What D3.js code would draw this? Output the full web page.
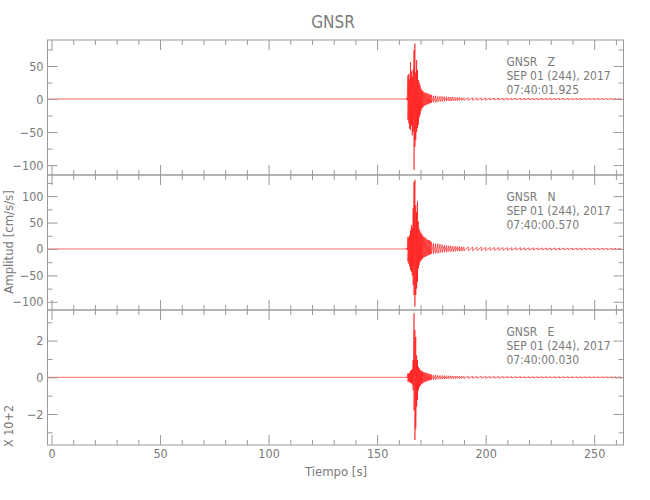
<!DOCTYPE html>
<html>
<head>
<meta charset="utf-8">
<script src="https://cdn.jsdelivr.net/npm/d3@7/dist/d3.min.js"></script>
<style>
  html, body { margin: 0; padding: 0; background: #fff; }
  svg text { font-family: "DejaVu Sans Condensed", "Liberation Sans Narrow", sans-serif; fill: #7a7a7a; }
</style>
</head>
<body>
<svg id="chart" width="650" height="500"></svg>
<script>
// ---------------- DATA ----------------
const title = "GNSR";
const xLabel = "Tiempo [s]";
const yLabel = "Amplitud [cm/s/s]";
const scaleNote = "X 10+2";
const xDomain = [-1.85, 263.5];
const xMajorTicks = [0, 50, 100, 150, 200, 250];

const components = ["Z", "N", "E"];
const headerLines = {
  Z: ["GNSR   Z", "SEP 01 (244), 2017", "07:40:01.925"],
  N: ["GNSR   N", "SEP 01 (244), 2017", "07:40:00.570"],
  E: ["GNSR   E", "SEP 01 (244), 2017", "07:40:00.030"]
};
const yDomains = { Z: [-115, 89.4], N: [-115.5, 140], E: [-3.69, 3.67] };
const yMajorTicks = { Z: [-100, -50, 0, 50], N: [-100, -50, 0, 50, 100], E: [-2, 0, 2] };
const yMinorTicks = { Z: [-75, -25, 25, 75], N: [-75, -25, 25, 75, 125], E: [-3, -1, 1, 3] };

// envelope sample times (s) of the trace after the onset; before it the trace is flat at 0
const envTimes = [
  163.8, 164.2, 164.6, 165.0, 165.4, 165.8, 166.2, 166.6, 167.0, 167.4,
  167.8, 168.2, 168.6, 169.0, 169.4, 169.8, 170.2, 170.6, 171.0,
  171.5, 172, 172.5, 173, 173.5, 174, 174.5, 175,
  176, 177, 178, 179, 180, 181, 182, 183, 184, 185, 186, 187, 188, 189, 190,
  192, 194, 196, 198, 200, 202, 204, 206, 208, 210, 212, 214, 216, 218, 220,
  222, 224, 226, 228, 230, 232, 234, 236, 238, 240, 242, 244, 246, 248, 250,
  252, 254, 256, 258, 260, 262
];

const zMax = [
  2, 36, 38, 30, 56, 42, 34, 45, 74, 84,
  40, 59, 44, 29, 25, 21, 16, 14, 12,
  11, 10, 9, 9, 8, 7, 7, 6,
  5, 5, 4, 4, 4, 3.5, 3.5, 3, 3, 3, 2.5, 2.5, 2.5, 2, 2,
  2, 2, 1.8, 1.8, 1.6, 1.6, 1.5, 1.5, 1.4, 1.4, 1.3, 1.3, 1.2, 1.2, 1.2,
  1.1, 1.1, 1.1, 1, 1, 1, 1, 1, 0.9, 0.9, 0.9, 0.9, 0.9, 0.8, 0.8,
  0.8, 0.8, 0.8, 0.8, 0.8, 0.8
];
const zMin = [
  -2, -32, -37, -45, -47, -40, -55, -50, -107, -72,
  -62, -50, -44, -39, -28, -24, -18, -14, -13,
  -11, -10, -9, -8, -8, -7, -6, -6,
  -5, -5, -4, -4, -3.5, -3.5, -3, -3, -3, -2.5, -2.5, -2.5, -2, -2, -2,
  -2, -1.9, -1.8, -1.7, -1.6, -1.5, -1.5, -1.4, -1.4, -1.3, -1.3, -1.2, -1.2, -1.2, -1.1,
  -1.1, -1.1, -1, -1, -1, -1, -1, -0.9, -0.9, -0.9, -0.9, -0.9, -0.8, -0.8, -0.8,
  -0.8, -0.8, -0.8, -0.8, -0.8, -0.8
];

const nMax = [
  2, 23, 22, 26, 35, 45, 40, 77, 127, 131,
  83, 70, 90, 52, 38, 33, 30, 28, 25,
  23, 22, 20, 18, 17, 17, 15, 13,
  11, 10, 10, 9, 8, 7, 7, 6, 6, 5, 5, 5, 4.5, 4, 4,
  4, 3.5, 3.5, 3.5, 3, 3, 3, 2.8, 2.8, 2.6, 2.5, 2.5, 2.4, 2.3, 2.2,
  2.2, 2.1, 2, 2, 2, 1.9, 1.8, 1.8, 1.7, 1.7, 1.6, 1.6, 1.5, 1.5, 1.5,
  1.4, 1.4, 1.4, 1.3, 1.3, 1.3
];
const nMin = [
  -2, -24, -28, -33, -40, -43, -50, -68, -87, -109,
  -87, -75, -62, -37, -30, -24, -22, -20, -18,
  -16, -15, -14, -13, -12, -11, -10, -9,
  -9, -8, -8, -7, -7, -6, -6, -5, -5, -5, -4.5, -4, -4, -4, -3.5,
  -3.5, -3.5, -3, -3, -3, -2.8, -2.8, -2.6, -2.5, -2.5, -2.4, -2.3, -2.2, -2.2, -2.1,
  -2, -2, -2, -1.9, -1.8, -1.8, -1.7, -1.7, -1.6, -1.6, -1.5, -1.5, -1.5, -1.4, -1.4,
  -1.4, -1.3, -1.3, -1.3, -1.2, -1.2
];

const eMax = [
  0.03, 0.22, 0.2, 0.25, 0.35, 0.4, 0.45, 0.94, 3.49, 2.58,
  2.2, 1.2, 0.94, 0.58, 0.5, 0.4, 0.38, 0.33, 0.3,
  0.28, 0.26, 0.25, 0.22, 0.2, 0.18, 0.16, 0.15,
  0.13, 0.12, 0.11, 0.1, 0.1, 0.09, 0.09, 0.08, 0.08, 0.07, 0.07, 0.07, 0.06, 0.06, 0.06,
  0.06, 0.055, 0.05, 0.05, 0.05, 0.045, 0.045, 0.045, 0.04, 0.04, 0.04, 0.04, 0.04, 0.038, 0.038,
  0.036, 0.036, 0.035, 0.035, 0.034, 0.034, 0.033, 0.033, 0.032, 0.032, 0.032, 0.031, 0.031, 0.03, 0.03,
  0.03, 0.03, 0.03, 0.03, 0.03, 0.03
];
const eMin = [
  -0.03, -0.24, -0.22, -0.28, -0.3, -0.33, -0.4, -0.7, -1.8, -3.42,
  -2.8, -1.6, -1.24, -0.7, -0.55, -0.47, -0.4, -0.35, -0.32,
  -0.28, -0.26, -0.24, -0.2, -0.18, -0.17, -0.15, -0.14,
  -0.13, -0.12, -0.11, -0.1, -0.1, -0.09, -0.09, -0.08, -0.08, -0.07, -0.07, -0.07, -0.06, -0.06, -0.06,
  -0.06, -0.055, -0.05, -0.05, -0.05, -0.045, -0.045, -0.045, -0.04, -0.04, -0.04, -0.04, -0.04, -0.038, -0.038,
  -0.036, -0.036, -0.035, -0.035, -0.034, -0.034, -0.033, -0.033, -0.032, -0.032, -0.032, -0.031, -0.031, -0.03, -0.03,
  -0.03, -0.03, -0.03, -0.03, -0.03, -0.03
];
const envMax = { Z: zMax, N: nMax, E: eMax };
const envMin = { Z: zMin, N: nMin, E: eMin };

// ---------------- LAYOUT ----------------
const plotLeft = 47.5, plotRight = 623.5;
const panelTop = 40, panelH = 135;
const axisColor = "#9a9a9a";
const textColor = "#7a7a7a";
const traceColor = "#ff0000";
const fontStack = '"DejaVu Sans Condensed", "Liberation Sans Narrow", sans-serif';

const svg = d3.select("#chart");
const x = d3.scaleLinear().domain(xDomain).range([plotLeft, plotRight]);
const xMinorTicks = d3.range(0, 270, 10).filter(v => v % 50 !== 0 && v <= xDomain[1]);

svg.append("text")
  .attr("x", 333).attr("y", 28)
  .attr("text-anchor", "middle")
  .style("font-size", "17px")
  .text(title);

svg.append("defs").append("clipPath").attr("id", "plotClip")
  .append("rect").attr("x", plotLeft).attr("y", panelTop)
  .attr("width", plotRight - plotLeft).attr("height", panelH * 3);

components.forEach((c, i) => {
  const top = panelTop + i * panelH, bottom = top + panelH;
  const y = d3.scaleLinear().domain(yDomains[c]).range([bottom, top]);
  const g = svg.append("g");

  // trace
  const pts = [[xDomain[0], 0], [envTimes[0] - 0.2, 0]];
  envTimes.forEach((t, k) => { pts.push([t, envMax[c][k]]); pts.push([t, envMin[c][k]]); });
  pts.push([xDomain[1], 0]);
  const line = d3.line().x(d => x(d[0])).y(d => y(d[1]));
  g.append("path")
    .attr("clip-path", "url(#plotClip)")
    .attr("d", line(pts))
    .attr("fill", "none")
    .attr("stroke", traceColor)
    .attr("stroke-width", 0.6);

  // axes: major + minor, inward ticks on all four sides
  const addAxis = (axis, transform, labels) => {
    const a = g.append("g").attr("transform", transform).call(axis);
    a.select(".domain").remove();
    a.selectAll(".tick line").attr("stroke", axisColor);
    if (!labels) a.selectAll(".tick text").remove();
    else a.selectAll(".tick text").attr("fill", textColor).style("font-size", "12.5px")
      .style("font-family", fontStack);
    return a;
  };
  const isBottomPanel = i === components.length - 1;
  addAxis(d3.axisBottom(x).tickValues(xMajorTicks).tickSize(-10).tickPadding(4).tickFormat(d3.format("d")),
    `translate(0,${bottom})`, isBottomPanel);
  addAxis(d3.axisBottom(x).tickValues(xMinorTicks).tickSize(-5), `translate(0,${bottom})`, false);
  addAxis(d3.axisTop(x).tickValues(xMajorTicks).tickSize(-10), `translate(0,${top})`, false);
  addAxis(d3.axisTop(x).tickValues(xMinorTicks).tickSize(-5), `translate(0,${top})`, false);
  addAxis(d3.axisLeft(y).tickValues(yMajorTicks[c]).tickSize(-10).tickPadding(4), `translate(${plotLeft},0)`, true);
  addAxis(d3.axisLeft(y).tickValues(yMinorTicks[c]).tickSize(-5), `translate(${plotLeft},0)`, false);
  addAxis(d3.axisRight(y).tickValues(yMajorTicks[c]).tickSize(-10), `translate(${plotRight},0)`, false);
  addAxis(d3.axisRight(y).tickValues(yMinorTicks[c]).tickSize(-5), `translate(${plotRight},0)`, false);

  // frame
  g.append("rect")
    .attr("x", plotLeft).attr("y", top)
    .attr("width", plotRight - plotLeft).attr("height", panelH)
    .attr("fill", "none").attr("stroke", axisColor).attr("stroke-width", 1);

  // header text
  headerLines[c].forEach((s, k) => {
    g.append("text")
      .attr("x", 506.5).attr("y", top + 25.5 + k * 14.3)
      .attr("xml:space", "preserve")
      .style("white-space", "pre")
      .style("font-size", "12px")
      .text(s);
  });
});

svg.append("text")
  .attr("x", 336).attr("y", 476)
  .attr("text-anchor", "middle")
  .style("font-size", "13px")
  .text(xLabel);

svg.append("text")
  .attr("transform", "translate(13,242) rotate(-90)")
  .attr("text-anchor", "middle")
  .style("font-size", "13px")
  .text(yLabel);

svg.append("text")
  .attr("transform", "translate(13,426) rotate(-90)")
  .attr("text-anchor", "middle")
  .style("font-size", "12.5px")
  .text(scaleNote);
</script>
</body>
</html>
